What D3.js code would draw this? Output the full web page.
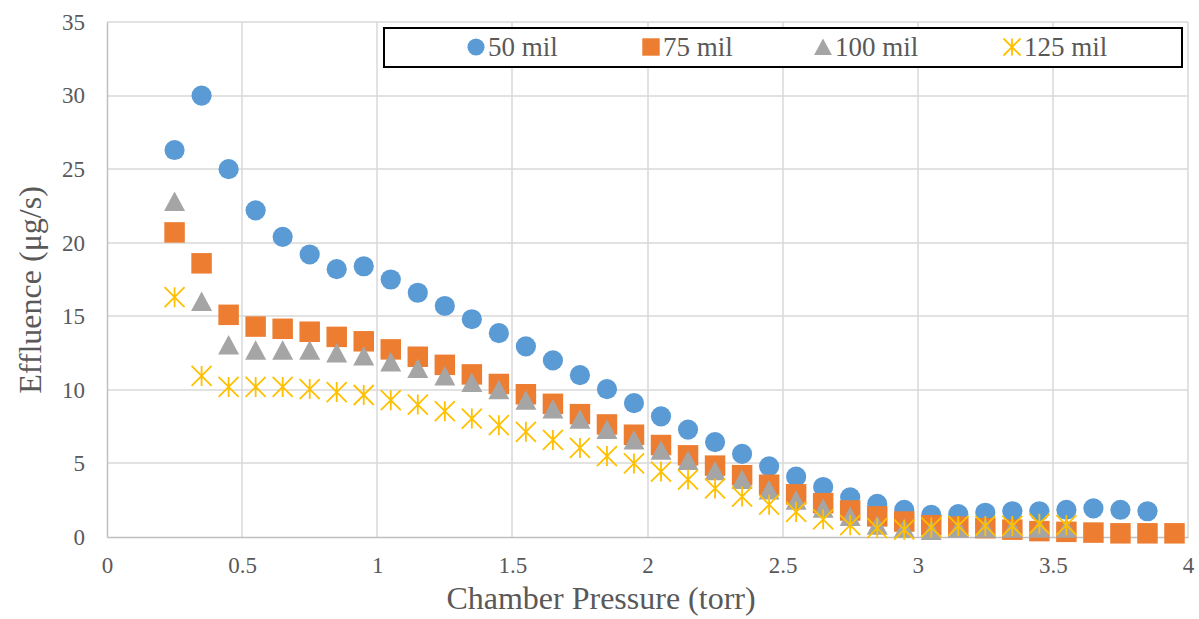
<!DOCTYPE html>
<html>
<head>
<meta charset="utf-8">
<script src="https://cdn.jsdelivr.net/npm/d3@7"></script>
<style>
  body { margin: 0; background: #fff; }
  svg { display: block; }
</style>
</head>
<body>
<div id="chart"></div>
<script>
// Presión de cámara (torr) y efluencia (µg/s) de cada serie
const pressure50 = [0.25,0.35,0.45,0.55,0.65,0.75,0.85,0.95,1.05,1.15,1.25,1.35,1.45,1.55,1.65,1.75,1.85,1.95,2.05,2.15,2.25,2.35,2.45,2.55,2.65,2.75,2.85,2.95,3.05,3.15,3.25,3.35,3.45,3.55,3.65,3.75,3.85];
const values50 = [26.3,30.0,25.0,22.2,20.4,19.2,18.2,18.4,17.5,16.6,15.7,14.8,13.85,12.95,12.0,11.0,10.05,9.1,8.2,7.3,6.45,5.65,4.8,4.1,3.4,2.7,2.25,1.85,1.5,1.55,1.65,1.75,1.75,1.85,1.95,1.85,1.75];

const pressure75 = [0.25,0.35,0.45,0.55,0.65,0.75,0.85,0.95,1.05,1.15,1.25,1.35,1.45,1.55,1.65,1.75,1.85,1.95,2.05,2.15,2.25,2.35,2.45,2.55,2.65,2.75,2.85,2.95,3.05,3.15,3.25,3.35,3.45,3.55,3.65,3.75,3.85,3.95];
const values75 = [20.7,18.6,15.1,14.3,14.15,13.95,13.6,13.3,12.75,12.25,11.7,11.05,10.4,9.7,9.05,8.35,7.65,6.95,6.25,5.55,4.85,4.2,3.55,2.9,2.3,1.8,1.4,1.05,0.8,0.7,0.6,0.5,0.4,0.35,0.3,0.25,0.25,0.25];

const pressure100 = [0.25,0.35,0.45,0.55,0.65,0.75,0.85,0.95,1.05,1.15,1.25,1.35,1.45,1.55,1.65,1.75,1.85,1.95,2.05,2.15,2.25,2.35,2.45,2.55,2.65,2.75,2.85,2.95,3.05,3.15,3.25,3.35,3.45,3.55];
const values100 = [22.8,16.0,13.05,12.7,12.7,12.7,12.5,12.3,11.9,11.45,10.95,10.5,10.0,9.3,8.7,8.0,7.3,6.6,5.9,5.2,4.5,3.9,3.2,2.5,1.95,1.4,0.8,0.6,0.45,0.6,0.6,0.6,0.6,0.6];

const pressure125 = [0.25,0.35,0.45,0.55,0.65,0.75,0.85,0.95,1.05,1.15,1.25,1.35,1.45,1.55,1.65,1.75,1.85,1.95,2.05,2.15,2.25,2.35,2.45,2.55,2.65,2.75,2.85,2.95,3.05,3.15,3.25,3.35,3.45,3.55];
const values125 = [16.3,10.95,10.2,10.2,10.2,10.05,9.85,9.65,9.3,9.0,8.55,8.05,7.6,7.15,6.6,6.05,5.5,5.0,4.45,3.9,3.3,2.75,2.2,1.7,1.2,0.8,0.6,0.5,0.65,0.75,0.75,0.75,0.9,0.8];

const seriesNames = ["50 mil", "75 mil", "100 mil", "125 mil"];
const seriesColors = ["#5B9BD5", "#ED7D31", "#A5A5A5", "#FFC000"];
const seriesShapes = ["circle", "square", "triangle", "star"];

const xTicks = [0, 0.5, 1, 1.5, 2, 2.5, 3, 3.5, 4];
const yTicks = [0, 5, 10, 15, 20, 25, 30, 35];

const FONT = '"Liberation Serif", "Times New Roman", Times, serif';

const series = [
  { name: seriesNames[0], x: pressure50, y: values50 },
  { name: seriesNames[1], x: pressure75, y: values75 },
  { name: seriesNames[2], x: pressure100, y: values100 },
  { name: seriesNames[3], x: pressure125, y: values125 }
].map((s, i) => ({
  ...s, color: seriesColors[i], shape: seriesShapes[i],
  points: s.x.map((v, j) => ({ x: v, y: s.y[j] }))
}));

const W = 1199, H = 619;
const margin = { top: 22, right: 11, bottom: 82, left: 107 };
const width = W - margin.left - margin.right;
const height = H - margin.top - margin.bottom;

const svgEl = d3.select("#chart").append("svg")
  .attr("width", W).attr("height", H)
  .attr("font-family", FONT);
const svg = svgEl.append("g").attr("transform", `translate(${margin.left},${margin.top})`);

const xScale = d3.scaleLinear().domain([0, 4]).range([0, width]);
const yScale = d3.scaleLinear().domain([0, 35]).range([height, 0]);

// Rejilla
svg.append("g").selectAll("line").data(yTicks.slice(1)).join("line")
  .attr("x1", 0).attr("x2", width)
  .attr("y1", d => Math.round(yScale(d))).attr("y2", d => Math.round(yScale(d)))
  .attr("stroke", "#D9D9D9").attr("stroke-width", 1.5);
svg.append("g").selectAll("line").data(xTicks.slice(1)).join("line")
  .attr("x1", d => Math.round(xScale(d))).attr("x2", d => Math.round(xScale(d)))
  .attr("y1", 0).attr("y2", height)
  .attr("stroke", "#D9D9D9").attr("stroke-width", 1.5);

// Ejes
const xAxis = svg.append("g").attr("transform", `translate(0,${height})`)
  .call(d3.axisBottom(xScale).tickValues(xTicks).tickSize(0).tickPadding(20).tickFormat(d3.format("")));
const yAxis = svg.append("g")
  .call(d3.axisLeft(yScale).tickValues(yTicks).tickSize(0).tickPadding(22));
[xAxis, yAxis].forEach(a => {
  a.attr("font-family", FONT).attr("font-size", 23);
  a.select(".domain").attr("stroke", "#BFBFBF").attr("stroke-width", 1.5);
  a.selectAll("text").attr("fill", "#595959");
});

// Marcadores
function drawMarker(g, shape, color, k) {
  if (shape === "star") {
    const r = 10 * k;
    g.append("path")
      .attr("d", `M0,${-r}L0,${r}M${-r},${-r}L${r},${r}M${-r},${r}L${r},${-r}`)
      .attr("stroke", color).attr("stroke-width", 1.8).attr("fill", "none");
  } else if (shape === "triangle") {
    const w = 10.5 * k, t = 10 * k, b = 9.5 * k;
    g.append("path").attr("d", `M0,${-t}L${w},${b}L${-w},${b}Z`).attr("fill", color);
  } else if (shape === "square") {
    g.append("path").attr("d", d3.symbol(d3.symbolSquare, 420 * k * k)()).attr("fill", color);
  } else {
    g.append("path").attr("d", d3.symbol(d3.symbolCircle, 320 * k * k)()).attr("fill", color);
  }
}

series.forEach(s => {
  svg.append("g").selectAll("g").data(s.points).join("g")
    .attr("transform", d => `translate(${xScale(d.x)},${yScale(d.y)})`)
    .each(function () { drawMarker(d3.select(this), s.shape, s.color, 1); });
});

// Títulos de ejes
svgEl.append("text").attr("x", 601).attr("y", 609)
  .attr("text-anchor", "middle").attr("fill", "#595959").attr("font-size", 32)
  .text("Chamber Pressure (torr)");
svgEl.append("text").attr("transform", `translate(41,290) rotate(-90)`)
  .attr("text-anchor", "middle").attr("fill", "#595959").attr("font-size", 32)
  .text("Effluence (μg/s)");

// Leyenda
const legend = svgEl.append("g");
legend.append("rect").attr("x", 384).attr("y", 28).attr("width", 798).attr("height", 39)
  .attr("fill", "#fff").attr("stroke", "#000").attr("stroke-width", 2);
const legendX = [476, 651, 823, 1012];
series.forEach((s, i) => {
  const item = legend.append("g").attr("transform", `translate(${legendX[i]},47)`);
  drawMarker(item, s.shape, s.color, 0.85);
  item.append("text").attr("x", 12).attr("y", 8.5).attr("fill", "#595959")
    .attr("font-size", 27).text(s.name);
});
</script>
</body>
</html>
